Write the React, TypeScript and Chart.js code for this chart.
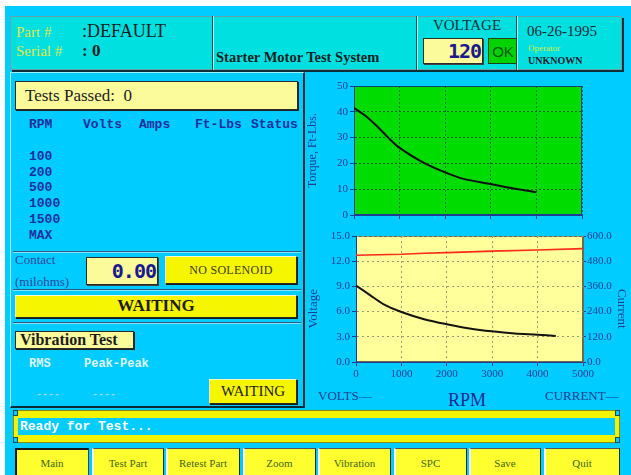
import React, { useEffect, useRef } from 'react';
import { Chart, registerables } from 'chart.js';
Chart.register(...registerables);

// ---------- data ----------
const torqueRpm = [0, 250, 500, 750, 1000, 1500, 2000, 2400, 3000, 3500, 4000];
const torqueVals = [41.5, 38.5, 34.5, 30, 26, 20.5, 16.5, 14, 12, 10.3, 8.8];
const voltRpm = [0, 300, 600, 1000, 1500, 2000, 2500, 3000, 3500, 4000, 4400];
const voltVals = [9.1, 8.0, 6.9, 5.95, 5.1, 4.5, 4.0, 3.65, 3.4, 3.25, 3.1];
const ampRpm = [0, 1000, 1500, 2000, 3000, 4000, 5000];
const ampVals = [508, 513, 518, 521, 528, 533, 540];
const rpmRange = [0, 5000];
const torqueRange = [0, 50];
const voltRange = [0, 15];
const ampRange = [0, 600];
const tableHeaders = ['RPM', 'Volts', 'Amps', 'Ft-Lbs', 'Status'];
const rpmRows = ['100', '200', '500', '1000', '1500', 'MAX'];
const buttonLabels = ['Main', 'Test Part', 'Retest Part', 'Zoom', 'Vibration', 'SPC', 'Save', 'Quit'];

// ---------- layout ----------
const AXIS = '#1e3c94';
const headerX = [29, 83, 139, 195, 251];
const buttonX = [15, 92, 166, 243, 318, 394, 469, 544];
const buttonW = [74, 72, 74, 73, 73, 73, 72, 76];

const plotBg = {
  id: 'plotBg',
  beforeDraw(chart: any, _a: any, opts: any) {
    const { ctx, chartArea } = chart;
    if (!chartArea) return;
    const { left, top, width, height } = chartArea;
    ctx.save();
    ctx.fillStyle = opts.color;
    ctx.fillRect(left, top, width, height);
    ctx.strokeStyle = opts.border;
    ctx.lineWidth = 1;
    ctx.strokeRect(left + 0.5, top + 0.5, width - 1, height - 1);
    ctx.restore();
  },
};

const tickFont = { family: 'Liberation Serif', size: 11 };

function topConfig(): any {
  const grid = { color: 'rgba(10,70,40,0.75)', tickColor: AXIS, tickLength: 4, tickBorderDash: [] };
  const border = { color: AXIS, dash: [2, 2] };
  return {
    type: 'line',
    data: {
      datasets: [{
        data: torqueRpm.map((x, i) => ({ x, y: torqueVals[i] })),
        borderColor: '#101010', borderWidth: 2, pointRadius: 0, tension: 0.3, fill: false,
      }],
    },
    options: {
      animation: false, responsive: false,
      layout: { padding: { top: 10, right: 40, left: 0, bottom: 0 } },
      plugins: { legend: { display: false }, tooltip: { enabled: false }, plotBg: { color: '#00dc00', border: AXIS } },
      scales: {
        x: {
          type: 'linear', min: rpmRange[0], max: rpmRange[1],
          ticks: { display: false, stepSize: 1000 }, grid, border,
          afterFit: (s: any) => { s.height = 11; },
        },
        y: {
          min: torqueRange[0], max: torqueRange[1],
          ticks: { stepSize: 10, color: AXIS, font: tickFont, padding: 2 },
          title: { display: true, text: 'Torque, Ft-Lbs.', color: AXIS, font: { family: 'Liberation Serif', size: 12 }, padding: { top: 1, bottom: 0 } },
          grid, border,
          afterFit: (s: any) => { s.width = 49; },
        },
      },
    },
    plugins: [plotBg],
  };
}

function bottomConfig(): any {
  const grid = { color: '#9a9a70', tickColor: AXIS, tickLength: 4, tickBorderDash: [] };
  const border = { color: AXIS, dash: [2, 3] };
  return {
    type: 'line',
    data: {
      datasets: [
        {
          data: ampRpm.map((x, i) => ({ x, y: ampVals[i] })), yAxisID: 'y1',
          borderColor: '#ff2a1a', borderWidth: 1.6, pointRadius: 0, tension: 0, fill: false,
        },
        {
          data: voltRpm.map((x, i) => ({ x, y: voltVals[i] })), yAxisID: 'y',
          borderColor: '#141414', borderWidth: 2, pointRadius: 0, tension: 0.3, fill: false,
        },
      ],
    },
    options: {
      animation: false, responsive: false,
      layout: { padding: { top: 10, right: 0, left: 0, bottom: 0 } },
      plugins: { legend: { display: false }, tooltip: { enabled: false }, plotBg: { color: '#ffff9c', border: '#6a6a50' } },
      scales: {
        x: {
          type: 'linear', min: rpmRange[0], max: rpmRange[1],
          ticks: { stepSize: 1000, color: AXIS, font: tickFont, padding: 2, maxRotation: 0, callback: (v: any) => String(v) },
          grid, border,
          afterFit: (s: any) => { s.height = 22; },
        },
        y: {
          position: 'left', min: voltRange[0], max: voltRange[1],
          ticks: { stepSize: 3, color: AXIS, font: tickFont, padding: 2, callback: (v: any) => Number(v).toFixed(1) },
          title: { display: true, text: 'Voltage      ', color: AXIS, font: { family: 'Liberation Serif', size: 13 }, padding: { top: 1, bottom: 0 } },
          grid, border,
          afterFit: (s: any) => { s.width = 51; },
        },
        y1: {
          position: 'right', min: ampRange[0], max: ampRange[1],
          ticks: { stepSize: 120, color: AXIS, font: tickFont, padding: 1, callback: (v: any) => Number(v).toFixed(1) },
          title: { display: true, text: '      Current', color: AXIS, font: { family: 'Liberation Serif', size: 13 }, padding: { top: 1, bottom: 0 } },
          grid: { drawOnChartArea: false, tickColor: AXIS, tickLength: 3 },
          border: { color: '#6a6a50' },
          afterFit: (s: any) => { s.width = 47; },
        },
      },
    },
    plugins: [plotBg],
  };
}

function ChartCanvas({ x, y, w, h, make }: any) {
  const ref = useRef<HTMLCanvasElement>(null);
  useEffect(() => {
    const c = new Chart(ref.current as HTMLCanvasElement, make());
    return () => c.destroy();
  }, []);
  return (
    <div style={{ position: 'absolute', left: x, top: y, width: w, height: h }}>
      <canvas ref={ref} width={w} height={h} style={{ width: w, height: h, display: 'block' }} />
    </div>
  );
}

function Box({ x, y, w, h, style, children }: any) {
  return <div style={{ position: 'absolute', left: x, top: y, width: w, height: h, boxSizing: 'border-box', ...style }}>{children}</div>;
}

function T({ x, cy, size, color, family = 'Liberation Serif', weight = 'normal', align = 'left', style, children }: any) {
  const h = Math.round(size * 1.4);
  const base: any = {
    position: 'absolute', top: cy - h / 2, height: h, lineHeight: h + 'px', fontSize: size, color,
    fontFamily: family, fontWeight: weight, whiteSpace: 'pre',
  };
  if (align === 'center') { base.left = x - 200; base.width = 400; base.textAlign = 'center'; }
  else if (align === 'right') { base.left = x - 400; base.width = 400; base.textAlign = 'right'; }
  else base.left = x;
  return <div style={{ ...base, ...style }}>{children}</div>;
}

const yellowRaised = {
  background: '#f6f600', border: '1px solid #2a2a2a', borderTop: '1px solid #fafad0', borderLeft: '1px solid #fafad0',
  boxShadow: '1px 1px 0 #1a1a1a',
};
const paleBox = { background: '#fbfb9c', border: '1px solid #2a2a2a', boxShadow: '1px 1px 0 #222' };
const lcd = { fontFamily: 'DejaVu Sans Mono', fontWeight: 'bold', color: '#1a1a8c', letterSpacing: -1 };

function Separator({ y }: any) {
  return (
    <>
      <Box x={13} y={y} w={288} h={1} style={{ background: '#2f5c86' }} />
      <Box x={13} y={y + 1} w={288} h={1} style={{ background: '#7fe4ff' }} />
    </>
  );
}

export default function App() {
  return (
    <div style={{ position: 'fixed', left: 0, top: 0, width: 631, height: 475, background: '#ffffff', overflow: 'hidden' }}>
      <Box x={5} y={6} w={626} h={469} style={{ background: '#00ccff' }} />

      {/* header */}
      <Box x={10} y={16} w={612} h={54} style={{ background: '#00e0e0', border: '1px solid #6aa0a8', boxShadow: '2px 2px 0 #0f2f38' }} />
      <Box x={212} y={16} w={1} h={54} style={{ background: '#1f4a52' }} />
      <Box x={213} y={16} w={1} h={54} style={{ background: '#9ff' }} />
      <Box x={416} y={16} w={1} h={54} style={{ background: '#1f4a52' }} />
      <Box x={417} y={16} w={1} h={54} style={{ background: '#9ff' }} />
      <Box x={516} y={16} w={1} h={54} style={{ background: '#1f4a52' }} />
      <Box x={517} y={16} w={1} h={54} style={{ background: '#9ff' }} />

      <T x={16} cy={32} size={15} color="#dfe84a">Part #</T>
      <T x={16} cy={51} size={15} color="#dfe84a">Serial #</T>
      <T x={82} cy={31} size={18} color="#0f1f1f">:DEFAULT</T>
      <T x={82} cy={51} size={17} color="#0f1f1f" weight="bold">: 0</T>
      <T x={216} cy={57} size={14.5} color="#0f1f1f" weight="bold">Starter Motor Test System</T>
      <T x={467} cy={25} size={15} color="#183038" align="center">VOLTAGE</T>
      <Box x={423} y={38} w={60} h={26} style={{ background: '#fbfb9c', border: '1px solid #2a2a2a', boxShadow: '1px 1px 0 #444' }} />
      <T x={481} cy={51} size={20} color="#1a1a8c" align="right" style={lcd}>120</T>
      <Box x={488} y={38} w={29} h={26} style={{ background: '#00d400', border: '1px solid #1f3f1f' }} />
      <T x={503} cy={51} size={15} color="#0a5a0a" family="Liberation Sans" align="center">OK</T>
      <T x={527} cy={31} size={15} color="#122a32">06-26-1995</T>
      <T x={528} cy={48} size={9} color="#d8ec40">Operator</T>
      <T x={528} cy={61} size={10} color="#10202a" weight="bold">UNKNOWN</T>

      {/* left panel */}
      <Box x={10} y={72} w={295} h={336} style={{ borderLeft: '1px solid #9fefff', borderTop: '1px solid #9fefff', borderRight: '2px solid #0b2a38', borderBottom: '2px solid #0b2a38' }} />
      <Box x={15} y={81} w={283} h={29} style={paleBox} />
      <T x={25} cy={96} size={17} color="#1c1c1c">Tests Passed:  0</T>
      {tableHeaders.map((t, i) => (
        <T key={t} x={headerX[i]} cy={125} size={13} color="#1a2fa0" family="Liberation Mono" weight="bold">{t}</T>
      ))}
      {rpmRows.map((t, i) => (
        <T key={t} x={29} cy={157 + i * 15.7} size={13} color="#1a2fa0" family="Liberation Mono" weight="bold">{t}</T>
      ))}
      <Separator y={251} />
      <T x={15} cy={260} size={13} color="#2a48a0">Contact</T>
      <T x={15} cy={282} size={13} color="#2a48a0">(milohms)</T>
      <Box x={86} y={257} w={72} h={28} style={{ background: '#fbfb9c', border: '1px solid #2a2a2a', boxShadow: '1px 1px 0 #444' }} />
      <T x={156} cy={271} size={20} color="#1a1a8c" align="right" style={lcd}>0.00</T>
      <Box x={165} y={256} w={132} h={28} style={yellowRaised} />
      <T x={231} cy={270} size={12} color="#3a3a14" align="center" style={{ letterSpacing: 0.3 }}>NO SOLENOID</T>
      <Separator y={289} />
      <Box x={15} y={295} w={282} h={23} style={yellowRaised} />
      <T x={156} cy={306} size={17} color="#1c1c1c" weight="bold" align="center">WAITING</T>
      <Separator y={322} />
      <Box x={15} y={331} w={119} h={18} style={paleBox} />
      <T x={20} cy={340} size={16} color="#1c1c1c" weight="bold">Vibration Test</T>
      <T x={29} cy={364} size={12} color="#dff4ff" family="Liberation Mono" weight="bold">RMS</T>
      <T x={84} cy={364} size={12} color="#dff4ff" family="Liberation Mono" weight="bold">Peak-Peak</T>
      <T x={36} cy={395} size={10} color="#9fdcf8" family="Liberation Mono" weight="bold">----</T>
      <T x={92} cy={395} size={10} color="#9fdcf8" family="Liberation Mono" weight="bold">----</T>
      <Box x={209} y={379} w={88} h={25} style={yellowRaised} />
      <T x={253} cy={391} size={15} color="#1c1c1c" align="center">WAITING</T>

      {/* charts */}
      <ChartCanvas x={305} y={76} w={317} h={150} make={topConfig} />
      <ChartCanvas x={305} y={226} w={325} h={158} make={bottomConfig} />
      <T x={318} cy={396} size={13} color={AXIS}>VOLTS—</T>
      <T x={467} cy={400} size={18} color="#1a2a94" align="center">RPM</T>
      <T x={545} cy={396} size={13} color={AXIS}>CURRENT—</T>

      {/* status bar */}
      <Box x={13} y={410} w={607} h={33} style={{ background: '#f4f400', border: '1px solid #8a8a10' }} />
      <Box x={18} y={418} w={597} h={17} style={{ background: '#00ccff' }} />
      <Box x={13} y={410} w={5} h={6} style={{ background: '#00ccff', border: '1px solid #1f4a5a' }} />
      <Box x={13} y={437} w={5} h={6} style={{ background: '#00ccff', border: '1px solid #1f4a5a' }} />
      <Box x={615} y={410} w={5} h={6} style={{ background: '#00ccff', border: '1px solid #1f4a5a' }} />
      <Box x={615} y={437} w={5} h={6} style={{ background: '#00ccff', border: '1px solid #1f4a5a' }} />
      <T x={20} cy={427} size={13} color="#ffffff" family="Liberation Mono" weight="bold">Ready for Test...</T>

      {/* buttons */}
      {buttonLabels.map((b, i) => (
        <React.Fragment key={b}>
          <Box x={buttonX[i]} y={448} w={buttonW[i]} h={30} style={i === 0
            ? { background: '#ffff30', borderTop: '2px solid #1a1a1a', borderLeft: '2px solid #1a1a1a', borderRight: '1px solid #444' }
            : { background: '#ffff30', border: '1px solid #2a2a2a', borderLeft: '2px solid #ffffff', borderTop: '1px solid #555' }} />
          <T x={buttonX[i] + buttonW[i] / 2} cy={463} size={11} color="#44661c" align="center">{b}</T>
        </React.Fragment>
      ))}
    </div>
  );
}
